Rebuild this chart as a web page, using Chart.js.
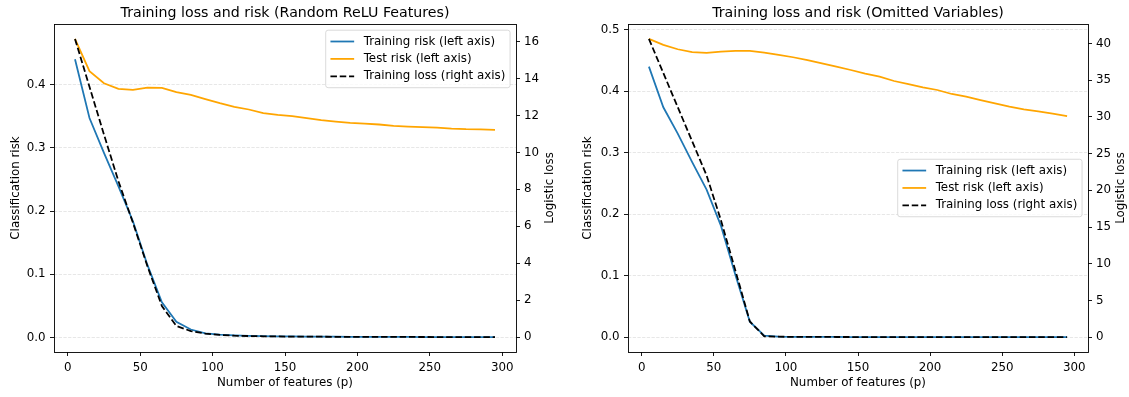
<!DOCTYPE html>
<html><head><meta charset="utf-8">
<script src="https://cdn.jsdelivr.net/npm/chart.js@4.4.0/dist/chart.umd.min.js"></script>
<style>
html,body{margin:0;padding:0;background:#fff;}
#wrap{position:relative;width:1129px;height:397px;overflow:hidden;}
canvas{position:absolute;top:0;}
#c1{left:0;}
#c2{left:564px;}
</style></head><body>
<div id="wrap">
<canvas id="c1" width="564" height="397"></canvas>
<canvas id="c2" width="565" height="397"></canvas>
</div>
<script>
// ---------------- data ----------------
const features = [5,15,25,35,45,55,65,75,85,95,105,115,125,135,145,155,165,175,185,195,205,215,225,235,245,255,265,275,285,295];
const xTickValues = [0,50,100,150,200,250,300];

const reluTitle = 'Training loss and risk (Random ReLU Features)';
const reluTrainRisk = [0.440,0.347,0.292,0.239,0.184,0.115,0.056,0.025,0.013,0.0068,0.0048,0.0038,0.0031,0.0026,0.0022,0.0020,0.0018,0.0017,0.0016,0.0015,0.0014,0.0013,0.0012,0.0012,0.0011,0.0011,0.0010,0.0010,0.0010,0.0010];
const reluTestRisk = [0.472,0.421,0.402,0.393,0.3915,0.395,0.3945,0.388,0.3835,0.377,0.3706,0.3648,0.3605,0.3548,0.352,0.350,0.347,0.3437,0.3415,0.3394,0.3383,0.3368,0.3347,0.3336,0.3326,0.332,0.3304,0.3294,0.329,0.3284];
const reluTrainLoss = [16.14,13.55,10.97,8.44,6.2,3.85,1.69,0.61,0.34,0.2,0.13,0.09,0.07,0.055,0.045,0.04,0.035,0.031,0.028,0.025,0.023,0.021,0.019,0.018,0.017,0.016,0.015,0.014,0.013,0.012];
const reluRiskTicks = [0,0.1,0.2,0.3,0.4];
const reluLossTicks = [0,2,4,6,8,10,12,14,16];

const omitTitle = 'Training loss and risk (Omitted Variables)';
const omitTrainRisk = [0.4397,0.3737,0.331,0.2845,0.240,0.181,0.101,0.0253,0.0026,0.0012,0.0008,0.0006,0.0005,0.0005,0.0004,0.0004,0.0004,0.0004,0.0003,0.0003,0.0003,0.0003,0.0003,0.0003,0.0003,0.0003,0.0003,0.0003,0.0003,0.0003];
const omitTestRisk = [0.4848,0.475,0.468,0.4635,0.462,0.464,0.4652,0.4652,0.4624,0.4587,0.455,0.4505,0.445,0.4397,0.4343,0.4283,0.4234,0.4164,0.4115,0.406,0.4018,0.3953,0.391,0.3855,0.380,0.3746,0.3705,0.3672,0.3635,0.3595];
const omitTrainLoss = [40.63,35.98,31.33,26.68,22.03,15.9,9.05,2.14,0.12,0.06,0.04,0.03,0.025,0.02,0.018,0.016,0.014,0.013,0.012,0.011,0.010,0.010,0.009,0.009,0.008,0.008,0.008,0.007,0.007,0.007];
const omitRiskTicks = [0,0.1,0.2,0.3,0.4,0.5];
const omitLossTicks = [0,5,10,15,20,25,30,35,40];

const labels = ['Training risk (left axis)','Test risk (left axis)','Training loss (right axis)'];
// --------------------------------------

Chart.defaults.font.family = "'DejaVu Sans', sans-serif";
Chart.defaults.color = '#000';

const FS = 11.85;
const TFS = 14.2;
const LW = 1.77;

function padRange(arrs){
  const all = [].concat(...arrs);
  const lo = Math.min(...all), hi = Math.max(...all);
  const m = (hi - lo) * 0.05;
  return [lo - m, hi + m];
}

function roundRect(ctx, x, y, w, h, r){
  ctx.moveTo(x + r, y);
  ctx.lineTo(x + w - r, y); ctx.arcTo(x + w, y, x + w, y + r, r);
  ctx.lineTo(x + w, y + h - r); ctx.arcTo(x + w, y + h, x + w - r, y + h, r);
  ctx.lineTo(x + r, y + h); ctx.arcTo(x, y + h, x, y + h - r, r);
  ctx.lineTo(x, y + r); ctx.arcTo(x, y, x + r, y, r);
  ctx.closePath();
}

const frameLegendPlugin = {
  id: 'frameLegend',
  afterDatasetsDraw(chart, args, opts){
    const {ctx, chartArea: a} = chart;
    ctx.save();
    // spines
    ctx.setLineDash([]);
    ctx.strokeStyle = '#000';
    ctx.lineWidth = 0.9;
    ctx.strokeRect(a.left + 0.5, a.top + 0.5, a.right - a.left, a.bottom - a.top);
    // legend
    ctx.font = FS + "px 'DejaVu Sans'";
    const ds = chart.data.datasets;
    const textW = Math.max(...ds.map(d => ctx.measureText(d.label).width));
    const pad = 0.4 * FS, hl = 2 * FS, htp = 0.8 * FS, pitch = 17.4;
    const W = pad + hl + htp + textW + pad;
    const H = 57.5;
    const right = a.right - 0.5 * FS;
    const top = opts.loc === 'upper right' ? a.top + 6.2 : (a.top + a.bottom) / 2 - H / 2;
    const left = right - W;
    ctx.beginPath();
    roundRect(ctx, left, top, W, H, 2.4);
    ctx.fillStyle = 'rgba(255,255,255,0.8)';
    ctx.fill();
    ctx.strokeStyle = 'rgba(204,204,204,0.8)';
    ctx.lineWidth = 0.9;
    ctx.stroke();
    ds.forEach((d, i) => {
      const cy = top + 11.3 + i * pitch;
      ctx.beginPath();
      ctx.setLineDash(d.borderDash || []);
      ctx.strokeStyle = d.borderColor;
      ctx.lineWidth = LW;
      ctx.moveTo(left + pad, cy); ctx.lineTo(left + pad + hl, cy);
      ctx.stroke();
      ctx.setLineDash([]);
      ctx.fillStyle = '#000';
      ctx.textAlign = 'left';
      ctx.textBaseline = 'middle';
      ctx.fillText(d.label, left + pad + hl + htp, cy);
    });
    // right axis title (reads bottom-to-top like matplotlib)
    ctx.translate(opts.rTitleX, (a.top + a.bottom) / 2);
    ctx.rotate(-Math.PI / 2);
    ctx.textAlign = 'center';
    ctx.textBaseline = 'middle';
    ctx.fillText('Logistic loss', 0, 0);
    ctx.restore();
  }
};

function fixPad(s){ s.paddingTop = 0; s.paddingBottom = 0; s.paddingLeft = 0; s.paddingRight = 0; }

function build(id, o){
  const pts = arr => features.map((x, i) => ({x: x, y: arr[i]}));
  const [xmin, xmax] = padRange([features]);
  const [rmin, rmax] = padRange([o.trainRisk, o.testRisk]);
  const [lmin, lmax] = padRange([o.trainLoss]);
  const tickFont = {size: FS};
  return new Chart(document.getElementById(id), {
    type: 'line',
    data: {datasets: [
      {label: labels[0], data: pts(o.trainRisk), borderColor: '#1f77b4', yAxisID: 'yRisk', order: 3},
      {label: labels[1], data: pts(o.testRisk), borderColor: '#ffa500', yAxisID: 'yRisk', order: 2},
      {label: labels[2], data: pts(o.trainLoss), borderColor: '#000000', borderDash: [6.5, 2.8], yAxisID: 'yLoss', order: 1}
    ]},
    options: {
      responsive: false, animation: false, devicePixelRatio: 1,
      elements: {line: {borderWidth: LW, tension: 0, fill: false, borderCapStyle: 'butt'}, point: {radius: 0, hoverRadius: 0}},
      layout: {padding: 0},
      events: [],
      plugins: {
        legend: {display: false},
        tooltip: {enabled: false},
        title: {display: true, text: o.title, fullSize: false, color: '#000',
          font: {size: TFS, lineHeight: 1.2, weight: 'normal'}, padding: {top: 4.5, bottom: 2.46}},
        frameLegend: {loc: o.loc, rTitleX: o.rTitleX}
      },
      scales: {
        x: {
          type: 'linear', position: 'bottom', min: xmin, max: xmax,
          afterBuildTicks: s => { s.ticks = xTickValues.map(v => ({value: v})); },
          afterFit: s => { s.height = 45; fixPad(s); },
          grid: {display: true, drawOnChartArea: false, drawTicks: true, tickLength: 4, tickColor: '#000', tickWidth: 0.9},
          border: {display: false},
          ticks: {font: tickFont, color: '#000', padding: 4.5, maxRotation: 0, autoSkip: false, callback: v => String(v)},
          title: {display: true, text: 'Number of features (p)', color: '#000', font: {size: FS, lineHeight: 1.2}, padding: {top: 0, bottom: 7.4}}
        },
        yRisk: {
          type: 'linear', position: 'left', min: rmin, max: rmax,
          afterBuildTicks: s => { s.ticks = o.riskTicks.map(v => ({value: v})); },
          afterFit: s => { s.width = o.leftW; fixPad(s); },
          grid: {display: true, drawOnChartArea: true, drawTicks: true, tickLength: 4, color: 'rgba(176,176,176,0.35)', lineWidth: 0.9, tickColor: '#000', tickWidth: 0.9, tickBorderDash: []},
          border: {display: false, dash: [3.3, 1.4]},
          ticks: {font: tickFont, color: '#000', padding: 4.5, autoSkip: false, callback: v => v.toFixed(1)},
          title: {display: true, text: 'Classification risk', color: '#000', font: {size: FS, lineHeight: 1.2}, padding: {top: o.lTitlePad, bottom: 0}}
        },
        yLoss: {
          type: 'linear', position: 'right', min: lmin, max: lmax,
          afterBuildTicks: s => { s.ticks = o.lossTicks.map(v => ({value: v})); },
          afterFit: s => { s.width = o.rightW; fixPad(s); },
          grid: {display: true, drawOnChartArea: false, drawTicks: true, tickLength: 4, tickColor: '#000', tickWidth: 0.9},
          border: {display: false},
          ticks: {font: tickFont, color: '#000', padding: 4, autoSkip: false, callback: v => String(v)},
          title: {display: false}
        }
      }
    },
    plugins: [frameLegendPlugin]
  });
}

build('c1', {title: reluTitle, trainRisk: reluTrainRisk, testRisk: reluTestRisk, trainLoss: reluTrainLoss,
  riskTicks: reluRiskTicks, lossTicks: reluLossTicks, leftW: 54, rightW: 48, lTitlePad: 8.4, rTitleX: 549.5, loc: 'upper right'});
build('c2', {title: omitTitle, trainRisk: omitTrainRisk, testRisk: omitTestRisk, trainLoss: omitTrainLoss,
  riskTicks: omitRiskTicks, lossTicks: omitLossTicks, leftW: 64, rightW: 41, lTitlePad: 16.4, rTitleX: 556.5, loc: 'center right'});
</script>
</body></html>
